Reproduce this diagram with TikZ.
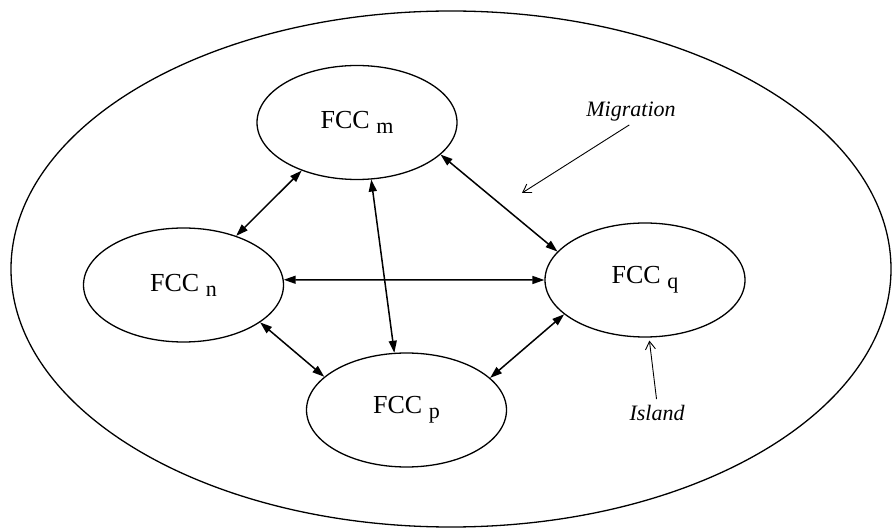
\documentclass[tikz,border=0pt]{standalone}
\usepackage{fontspec}
\setmainfont{Liberation Serif}
\usepackage{tikz}
\usetikzlibrary{arrows.meta, positioning, shapes.geometric}
\newcommand{\fccsub}[1]{FCC \raisebox{-5pt}{\fontsize{22}{22}\selectfont #1}}
\begin{document}
\begin{tikzpicture}[x=1pt, y=-1pt,
  fcc/.style={ellipse, draw, line width=1.3pt, minimum width=200pt,
    minimum height=114pt, inner sep=0pt, font=\fontsize{26}{26}\selectfont},
  link/.style={{Triangle[length=12pt,width=8pt]}-{Triangle[length=12pt,width=8pt]},
    line width=1.5pt},
  note/.style={font=\fontsize{22}{22}\selectfont\itshape, inner sep=2pt},
  pointer/.style={-{Straight Barb[length=8pt,width=10pt]}, line width=0.9pt}]
  \useasboundingbox (0,0) rectangle (892,529);
  % outer island
  \draw[line width=1.3pt] (451,269) ellipse [x radius=440pt, y radius=258pt];
  % populations
  \node[fcc] (m) at (357,122.5) {\fccsub{m}};
  \node[fcc] (n) at (183.5,285) {\fccsub{n}};
  \node[fcc] (p) at (406.5,410) {\fccsub{p}};
  \node[fcc] (q) at (645,280) {\fccsub{q}};
  % migration links
  \draw[link] (n.43) -- (m.221);
  \draw[link] (m.284) -- (p.102);
  \draw[link] (m.339) -- (q.162);
  \draw[link] (n.3) -- (q.180);
  \draw[link] (n.334) -- (p.158);
  \draw[link] (p.21) -- (q.203);
  % labels
  \node[note] (migration) at (631,112) {Migration};
  \coordinate (migtip) at (522,193);
  \draw[pointer, shorten <=2pt] (migration.south) -- (migtip);
  \node[note] (island) at (657,413) {Island};
  \draw[pointer, shorten <=4pt, shorten >=3pt] (island.north) -- (q.274);
\end{tikzpicture}
\end{document}
